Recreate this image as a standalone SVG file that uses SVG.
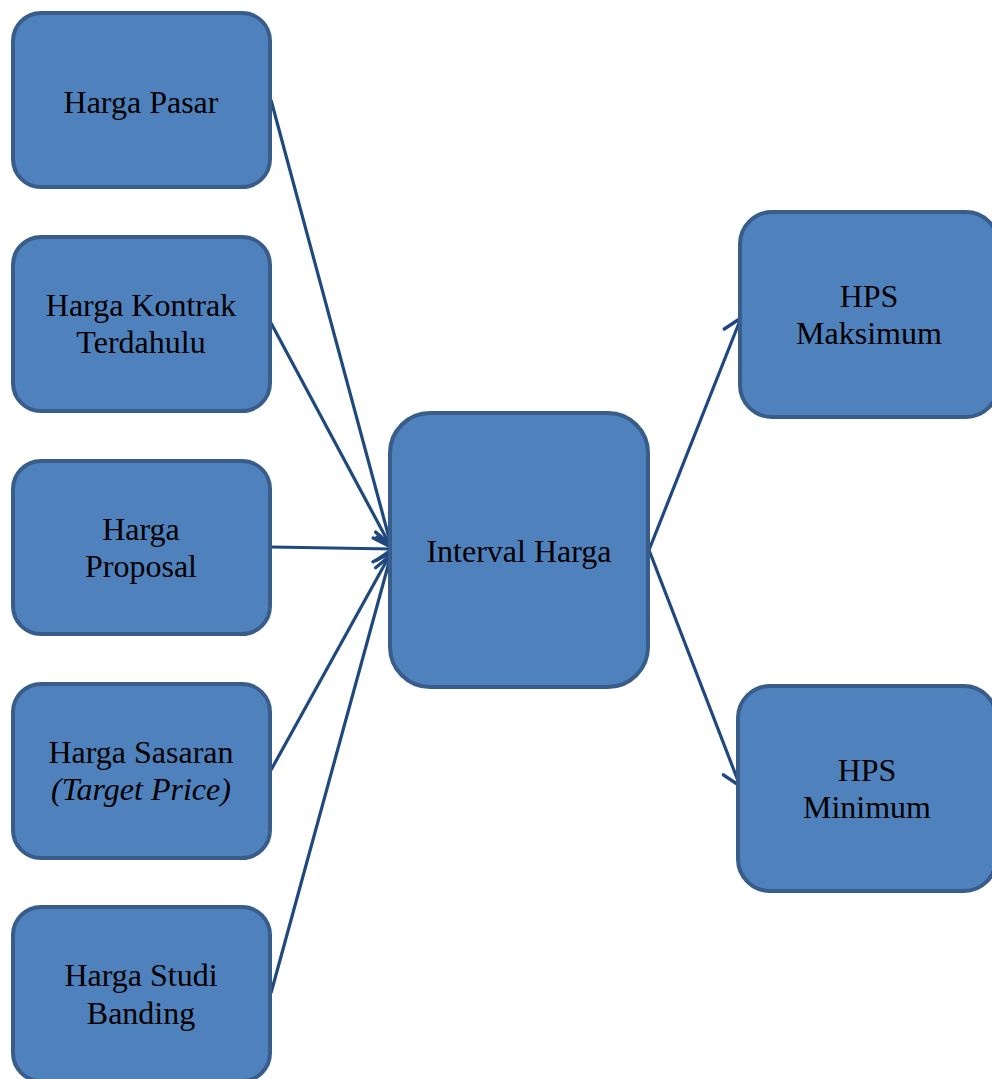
<svg xmlns="http://www.w3.org/2000/svg" width="992" height="1079" viewBox="0 0 992 1079">
<defs>
<style>
.box{fill:#4F81BD;stroke:#385D8A;stroke-width:4}
.t{font-family:"Liberation Serif","Times New Roman",serif;font-size:32px;fill:#000;text-anchor:middle}
.i{font-style:italic}
.c{fill:none;stroke:#1F497D;stroke-width:3.2;marker-end:url(#ah)}
</style>
<marker id="ah" viewBox="0 0 30 30" refX="26" refY="15" markerWidth="30" markerHeight="30" orient="auto" markerUnits="userSpaceOnUse" overflow="visible">
<path d="M9.6,3.5 L26,15 L9.6,26.5" fill="none" stroke="#1F497D" stroke-width="3.4" stroke-linecap="round" stroke-linejoin="round"/>
</marker>
</defs>
<rect width="992" height="1079" fill="#fff"/>
<g id="connectors">
<line class="c" x1="271" y1="100" x2="391" y2="545"/>
<line class="c" x1="271" y1="323" x2="391" y2="547"/>
<line class="c" x1="271" y1="547" x2="393" y2="549"/>
<line class="c" x1="271" y1="770" x2="391" y2="553"/>
<line class="c" x1="271" y1="993" x2="391" y2="555"/>
<line class="c" x1="649" y1="550" x2="741" y2="318"/>
<line class="c" x1="649" y1="550" x2="740" y2="786"/>
</g>
<g id="n1"><rect class="box" x="13" y="13" width="257" height="174" rx="28"/><text class="t" x="141" y="113">Harga Pasar</text></g>
<g id="n2"><rect class="box" x="13" y="237" width="257" height="174" rx="28"/><text class="t" x="141" y="316">Harga Kontrak</text><text class="t" x="141" y="353">Terdahulu</text></g>
<g id="n3"><rect class="box" x="13" y="461" width="257" height="173" rx="28"/><text class="t" x="141" y="540">Harga</text><text class="t" x="141" y="577">Proposal</text></g>
<g id="n4"><rect class="box" x="13" y="684" width="257" height="174" rx="28"/><text class="t" x="141" y="763">Harga Sasaran</text><text class="t i" x="141" y="800">(Target Price)</text></g>
<g id="n5"><rect class="box" x="13" y="907" width="257" height="174" rx="28"/><text class="t" x="141" y="986">Harga Studi</text><text class="t" x="141" y="1024">Banding</text></g>
<g id="n6"><rect class="box" x="390" y="413" width="258" height="274" rx="40"/><text class="t" x="519" y="562">Interval Harga</text></g>
<g id="n7"><rect class="box" x="740" y="212" width="258" height="205" rx="32"/><text class="t" x="869" y="307">HPS</text><text class="t" x="869" y="344">Maksimum</text></g>
<g id="n8"><rect class="box" x="738" y="686" width="258" height="205" rx="32"/><text class="t" x="867" y="781">HPS</text><text class="t" x="867" y="818">Minimum</text></g>
</svg>
